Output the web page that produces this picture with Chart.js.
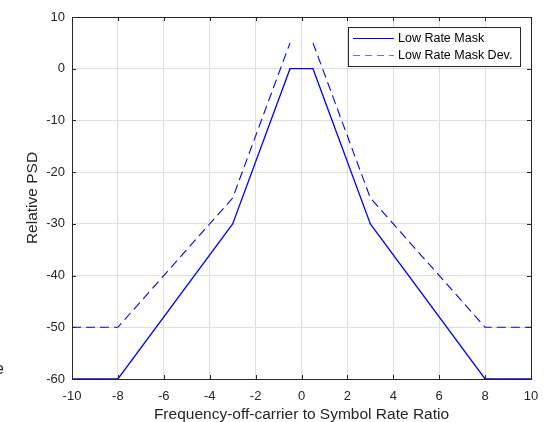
<!DOCTYPE html>
<html>
<head>
<meta charset="utf-8">
<script src="https://cdn.jsdelivr.net/npm/chart.js@4/dist/chart.umd.min.js"></script>
<style>
  html, body { margin: 0; padding: 0; background: #fff; }
  #wrap { position: relative; width: 550px; height: 422px; }
  #stray { position: absolute; left: -5px; top: 360px; font: 16px "Liberation Sans", Arial, sans-serif; color: #222; }
</style>
</head>
<body>
<div id="wrap">
  <canvas id="psdChart" width="550" height="422"></canvas>
  <div id="stray">e</div>
</div>
<script>
const freqRatio = [-10, -8, -3, -0.5, 0, 0.5, 3, 8, 10];
const maskValues = [-60, -60, -30, 0, 0, 0, -30, -60, -60];
const maskDevValues = [-50, -50, -25, 5, null, 5, -25, -50, -50];
const seriesNames = ["Low Rate Mask", "Low Rate Mask Dev."];
const xTicks = [-10, -8, -6, -4, -2, 0, 2, 4, 6, 8, 10];
const yTicks = [-60, -50, -40, -30, -20, -10, 0, 10];

const FONT = '"Liberation Sans", Arial, sans-serif';
const lineBlue = "#0000ff";

function toPoints(ys) {
  return freqRatio.map((x, i) => ({ x: x, y: ys[i] }));
}

// frame, inner ticks and the boxed legend
const framePlugin = {
  id: "frame",
  afterDraw(chart) {
    const { ctx, chartArea: a, scales } = chart;
    ctx.save();
    ctx.strokeStyle = "#262626";
    ctx.lineWidth = 1;
    ctx.beginPath();
    xTicks.forEach((v) => {
      const px = Math.round(scales.x.getPixelForValue(v)) + 0.5;
      ctx.moveTo(px, a.bottom);
      ctx.lineTo(px, a.bottom - 4);
      ctx.moveTo(px, a.top);
      ctx.lineTo(px, a.top + 4);
    });
    yTicks.forEach((v) => {
      const py = Math.round(scales.y.getPixelForValue(v)) + 0.5;
      ctx.moveTo(a.left, py);
      ctx.lineTo(a.left + 4, py);
      ctx.moveTo(a.right, py);
      ctx.lineTo(a.right - 4, py);
    });
    ctx.stroke();
    ctx.strokeRect(Math.round(a.left) + 0.5, Math.round(a.top) + 0.5,
      Math.round(a.right - a.left), Math.round(a.bottom - a.top));

    // legend
    const lx = 348.5, ly = 27.5, lw = 172, lh = 39;
    ctx.fillStyle = "#fff";
    ctx.fillRect(lx, ly, lw, lh);
    ctx.strokeStyle = "#262626";
    ctx.strokeRect(lx, ly, lw, lh);
    ctx.font = "12.5px " + FONT;
    ctx.textBaseline = "middle";
    ctx.fillStyle = "#000";
    const rows = [38, 55];
    rows.forEach((ry, i) => {
      ctx.strokeStyle = i === 0 ? lineBlue : "#6f6fff";
      ctx.lineWidth = 1.2;
      ctx.setLineDash(i === 0 ? [] : [7, 5]);
      ctx.beginPath();
      ctx.moveTo(353, ry + 0.5);
      ctx.lineTo(394, ry + 0.5);
      ctx.stroke();
      ctx.setLineDash([]);
      ctx.fillText(seriesNames[i], 398, ry + 1);
    });
    ctx.restore();
  },
};

new Chart(document.getElementById("psdChart").getContext("2d"), {
  type: "line",
  data: {
    datasets: [
      {
        label: seriesNames[0],
        data: toPoints(maskValues),
        borderColor: lineBlue,
        borderWidth: 1.3,
        pointRadius: 0,
        tension: 0,
      },
      {
        label: seriesNames[1],
        data: toPoints(maskDevValues),
        borderColor: lineBlue,
        borderWidth: 1.1,
        borderDash: [9, 5],
        pointRadius: 0,
        tension: 0,
        spanGaps: false,
      },
    ],
  },
  options: {
    responsive: false,
    animation: false,
    layout: { padding: { left: 20, top: 17, right: 19, bottom: 0 } },
    plugins: {
      legend: { display: false },
      tooltip: { enabled: false },
    },
    scales: {
      x: {
        type: "linear",
        min: -10,
        max: 10,
        afterBuildTicks(scale) {
          scale.ticks = xTicks.map((v) => ({ value: v }));
        },
        afterFit(scale) {
          scale.height = 43;
        },
        grid: { color: "#dedede", drawTicks: false },
        border: { display: false },
        ticks: { padding: 10, color: "#262626", font: { family: FONT, size: 13 } },
        title: {
          display: true,
          text: "Frequency-off-carrier to Symbol Rate Ratio",
          color: "#262626",
          font: { family: FONT, size: 15.5, lineHeight: 1 },
          padding: { top: 0, bottom: 0 },
        },
      },
      y: {
        min: -60,
        max: 10,
        afterBuildTicks(scale) {
          scale.ticks = yTicks.map((v) => ({ value: v }));
        },
        afterFit(scale) {
          scale.width = 52;
        },
        grid: { color: "#dedede", drawTicks: false },
        border: { display: false },
        ticks: { padding: 7, color: "#262626", font: { family: FONT, size: 13 } },
        title: {
          display: true,
          text: "Relative PSD",
          color: "#262626",
          font: { family: FONT, size: 15.5, lineHeight: 1 },
          padding: { top: 5, bottom: 0 },
        },
      },
    },
  },
  plugins: [framePlugin],
});
</script>
</body>
</html>
